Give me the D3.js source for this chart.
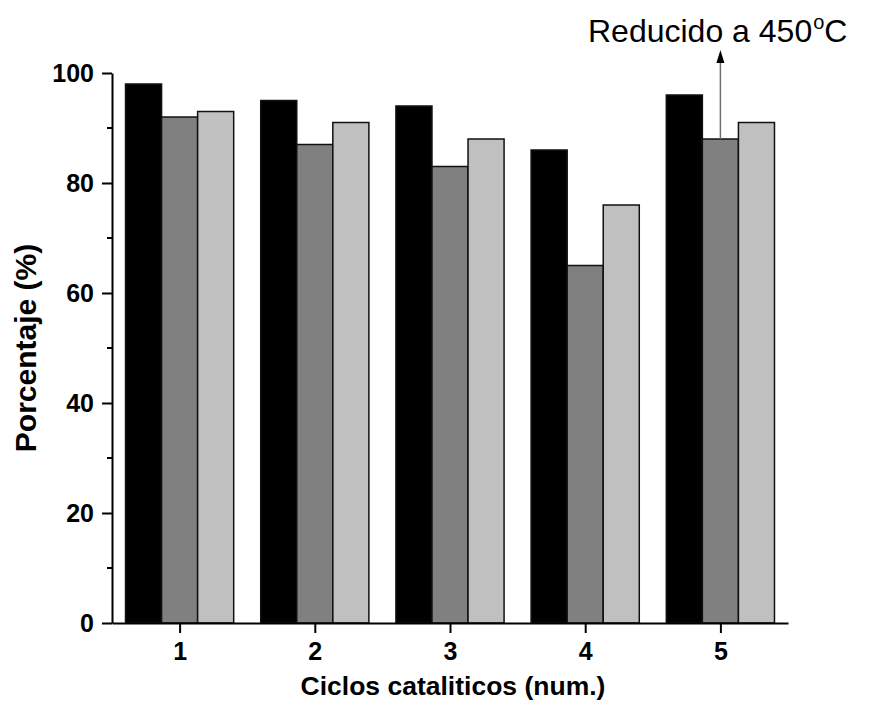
<!DOCTYPE html>
<html>
<head>
<meta charset="utf-8">
<script src="https://cdn.jsdelivr.net/npm/d3@7"></script>
<style>
  html, body { margin: 0; padding: 0; background: #fff; }
  svg { display: block; font-family: "Liberation Sans", Arial, sans-serif; }
</style>
</head>
<body>
<svg id="chart" width="869" height="709"></svg>
<script>
// Catalytic cycles and the three measured percentages per cycle
const cycles = [1, 2, 3, 4, 5];
const serieNegra = [98, 95, 94, 86, 96];
const serieGris = [92, 87, 83, 65, 88];
const serieClara = [93, 91, 88, 76, 91];
const seriesColors = ["#000000", "#808080", "#c0c0c0"];
const yMajorTicks = [0, 20, 40, 60, 80, 100];
const yMinorTicks = [10, 30, 50, 70, 90];
const annotation = { text: "Reducido a 450", sup: "o", unit: "C", cycle: 5, series: 1 };

const series = [serieNegra, serieGris, serieClara];

const svg = d3.select("#chart");
const plot = { left: 112, right: 788, top: 73, bottom: 623 };

const x = d3.scaleLinear().domain([0.5, 5.5]).range([plot.left, plot.right]);
const y = d3.scaleLinear().domain([0, 100]).range([plot.bottom, plot.top]);

// Bars: each group takes 80% of one cycle interval, split into three bars
const groupWidth = 0.8;
const barW = groupWidth / series.length;
const bars = svg.append("g");
series.forEach((vals, si) => {
  bars.selectAll(null)
    .data(vals.map((v, i) => ({ c: cycles[i], v })))
    .enter().append("rect")
    .attr("x", d => x(d.c - groupWidth / 2 + si * barW))
    .attr("width", d => x(d.c - groupWidth / 2 + (si + 1) * barW) - x(d.c - groupWidth / 2 + si * barW))
    .attr("y", d => y(d.v))
    .attr("height", d => y(0) - y(d.v))
    .attr("fill", seriesColors[si])
    .attr("stroke", "#111")
    .attr("stroke-width", 1.5);
});

// Left axis with major (labelled) and minor ticks
const yAxis = svg.append("g").attr("transform", `translate(${plot.left},0)`)
  .call(d3.axisLeft(y).tickValues(yMajorTicks).tickSize(10).tickPadding(8).tickSizeOuter(0));
yAxis.append("g").selectAll("line").data(yMinorTicks).enter().append("line")
  .attr("x1", -5).attr("x2", 0).attr("y1", d => y(d)).attr("y2", d => y(d))
  .attr("stroke", "#000").attr("stroke-width", 2);

// Bottom axis
const xAxis = svg.append("g").attr("transform", `translate(0,${plot.bottom})`)
  .call(d3.axisBottom(x).tickValues(cycles).tickFormat(d3.format("d")).tickSize(10).tickPadding(9).tickSizeOuter(0));

[yAxis, xAxis].forEach(g => {
  g.select(".domain").attr("stroke", "#000").attr("stroke-width", 2);
  g.selectAll(".tick line").attr("stroke", "#000").attr("stroke-width", 2);
  g.selectAll(".tick text")
    .attr("fill", "#000")
    .style("font-size", "25px")
    .style("font-weight", "bold")
    .style("font-family", "'Liberation Sans', Arial, sans-serif");
});

// Axis titles
svg.append("text")
  .attr("transform", `translate(36,${(plot.top + plot.bottom) / 2}) rotate(-90)`)
  .attr("text-anchor", "middle")
  .style("font-size", "30px").style("font-weight", "bold")
  .text("Porcentaje (%)");

svg.append("text")
  .attr("x", (plot.left + plot.right) / 2 + 3)
  .attr("y", 695)
  .attr("text-anchor", "middle")
  .style("font-size", "26.5px").style("font-weight", "bold")
  .text("Ciclos cataliticos (num.)");

// Arrow from the bar of the annotated cycle up to the note
const ax = x(annotation.cycle - groupWidth / 2 + (annotation.series + 0.5) * barW);
const ayStart = y(series[annotation.series][cycles.indexOf(annotation.cycle)]);
const tipY = 50;
svg.append("line")
  .attr("x1", ax).attr("x2", ax)
  .attr("y1", ayStart).attr("y2", tipY + 12)
  .attr("stroke", "#6e6e6e").attr("stroke-width", 1.5);
svg.append("path")
  .attr("d", `M${ax},${tipY} L${ax - 4},${tipY + 13} L${ax + 4},${tipY + 13} Z`)
  .attr("fill", "#000");

const note = svg.append("text")
  .attr("x", 588).attr("y", 42)
  .style("font-size", "32px")
  .attr("fill", "#000");
note.append("tspan").text(annotation.text);
note.append("tspan").attr("dy", -13).attr("dx", 1).style("font-size", "20px").text(annotation.sup);
note.append("tspan").attr("dy", 13).text(annotation.unit);
</script>
</body>
</html>
